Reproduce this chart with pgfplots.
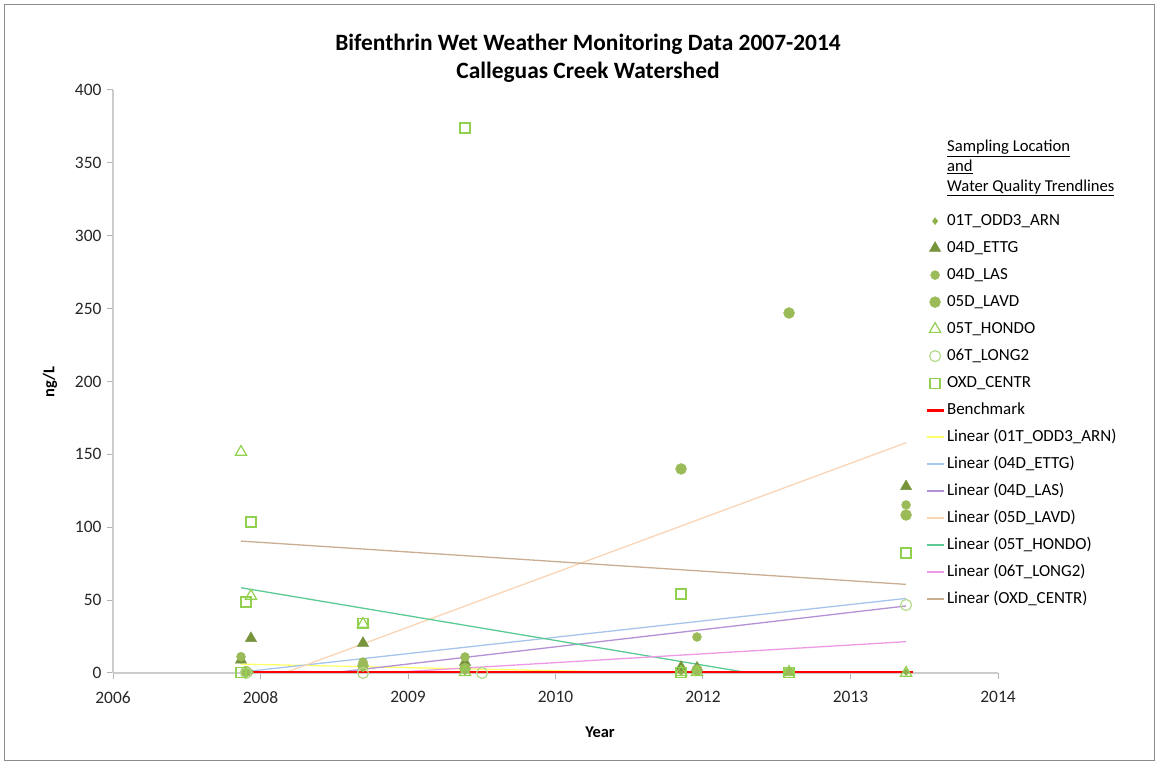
\documentclass[border=0pt]{standalone}
\usepackage{pgfplots}
\pgfplotsset{compat=1.18}
\usepackage{fontspec}
\setmainfont{Carlito}

\definecolor{markgreen}{HTML}{9BBB59}
\definecolor{darkgreen}{HTML}{77933C}
\definecolor{diagreen}{HTML}{8DB04A}
\definecolor{lime}{HTML}{92D050}
\definecolor{palelime}{HTML}{B5D98A}
\definecolor{tyellow}{HTML}{FFFF66}
\definecolor{tblue}{HTML}{A6C4EC}
\definecolor{tpurple}{HTML}{B391D4}
\definecolor{tpeach}{HTML}{FBD4B4}
\definecolor{tmint}{HTML}{5CCB93}
\definecolor{tpink}{HTML}{EE99E6}
\definecolor{ttan}{HTML}{C9AE93}

\begin{document}
\begin{tikzpicture}
\path[use as bounding box] (0bp,0bp) rectangle (1159bp,765bp);
\draw[black!45, line width=1bp] (4.5bp,4.5bp) rectangle (1154.5bp,760.5bp);

% titles
\node[align=center, font=\bfseries\fontsize{23.5}{28}\selectfont] at (588bp,707bp)
  {Bifenthrin Wet Weather Monitoring Data 2007-2014\\Calleguas Creek Watershed};
\node[rotate=90, font=\bfseries\fontsize{16.5}{19}\selectfont] at (50bp,383bp) {ng/L};
\node[font=\bfseries\fontsize{16.5}{19}\selectfont] at (600bp,33bp) {Year};
\node[anchor=north west, align=left, font=\fontsize{16.7}{20}\selectfont, inner sep=0pt] at (947bp,625bp)
  {\underline{Sampling Location}\\\underline{and}\\\underline{Water Quality Trendlines}};

\begin{axis}[
    at={(113bp,92bp)}, anchor=south west,
    scale only axis, width=885bp, height=583bp,
    xmin=2006.72, xmax=2014.72,
    ymin=0, ymax=400,
    xtick={2006.72,2008.053,2009.387,2010.72,2012.053,2013.387,2014.72},
    xticklabels={2006,2008,2009,2010,2012,2013,2014},
    ytick={0,50,...,400},
    axis lines*=left,
    axis line style={black!20, line width=1.5bp},
    tick style={black!30, line width=1bp},
    tick align=outside, major tick length=6bp,
    ticklabel style={font=\fontsize{17.5}{20}\selectfont, text=black!85},
    xticklabel style={yshift=-9bp},
    yticklabel style={xshift=-2bp},
    /pgf/number format/assume math mode=true,
    legend style={at={(0.914,0.796)}, anchor=north west, draw=none, fill=none,
        font=\fontsize{17}{20}\selectfont, row sep=7bp,
        nodes={inner sep=2bp, text height=12bp, text depth=4bp}},
    legend cell align=left,
]
% trendlines and benchmark (drawn first, under the markers)
\addplot[tyellow, line width=1.3bp, forget plot] coordinates {(2007.877,6.1)(2013.889,-3.5)};
\addplot[tblue, line width=1.3bp, forget plot] coordinates {(2007.877,0.6)(2013.889,51.2)};
\addplot[tpurple, line width=1.3bp, forget plot] coordinates {(2007.877,-7.2)(2013.889,46)};
\addplot[tpeach, line width=1.3bp, forget plot] coordinates {(2007.877,-11)(2013.889,158)};
\addplot[tmint, line width=1.3bp, forget plot] coordinates {(2007.877,58.5)(2013.889,-18)};
\addplot[tpink, line width=1.3bp, forget plot] coordinates {(2007.877,-5.8)(2013.889,21.5)};
\addplot[ttan, line width=1.3bp, forget plot] coordinates {(2007.877,90.5)(2013.889,60.8)};
\addplot[red, line width=3bp, forget plot] coordinates {(2007.90,0.6)(2013.95,0.6)};

% sampling locations
\addplot[only marks, mark=diamond*, mark size=3.5bp, color=diagreen] coordinates {
(2007.877,9)(2007.967,0.5)(2008.980,3)(2009.902,1)(2011.855,0.5)(2011.999,0.5)(2012.831,0.5)(2013.889,0.5)};
\addlegendentry{01T\_ODD3\_ARN}
\addplot[only marks, mark=triangle*, mark size=6.5bp, color=darkgreen] coordinates {
(2007.877,9)(2007.967,23.8)(2008.980,20.5)(2009.902,7.5)(2011.855,4)(2011.999,3.5)(2012.831,0.5)(2013.889,128)};
\addlegendentry{04D\_ETTG}
\addplot[only marks, mark=*, mark size=4.5bp, color=markgreen] coordinates {
(2007.877,11.2)(2007.922,0.5)(2008.980,7.5)(2009.902,11)(2011.999,24.7)(2012.831,1)(2013.889,115.3)};
\addlegendentry{04D\_LAS}
\addplot[only marks, mark=*, mark size=5.5bp, color=markgreen] coordinates {
(2007.922,1)(2008.980,5)(2009.902,3)(2011.855,140)(2011.999,2)(2012.831,247)(2013.889,108.4)};
\addlegendentry{05D\_LAVD}
\addplot[only marks, mark=triangle, mark size=6.5bp, color=lime, line width=1.2bp] coordinates {
(2007.877,151.6)(2007.967,52.8)(2008.980,33.6)(2009.902,0.5)(2011.855,0.5)(2011.999,0.5)(2012.831,0.5)(2013.889,0)};
\addlegendentry{05T\_HONDO}
\addplot[only marks, mark=o, mark size=5.5bp, color=palelime, line width=1.2bp] coordinates {
(2007.922,0)(2008.980,0)(2010.056,0)(2013.889,46.7)};
\addlegendentry{06T\_LONG2}
\addplot[only marks, mark=square, mark size=5bp, color=lime, line width=1.2bp] coordinates {
(2007.877,0.5)(2007.922,48.7)(2007.967,103.6)(2008.980,34)(2009.902,373.9)(2011.855,54.2)(2011.855,0.5)(2012.831,0.5)(2013.889,82.3)};
\addlegendentry{OXD\_CENTR}

\addlegendimage{line legend, red, line width=3bp}
\addlegendentry{Benchmark}
\addlegendimage{line legend, tyellow, line width=1.6bp}
\addlegendentry{Linear (01T\_ODD3\_ARN)}
\addlegendimage{line legend, tblue, line width=1.6bp}
\addlegendentry{Linear (04D\_ETTG)}
\addlegendimage{line legend, tpurple, line width=1.6bp}
\addlegendentry{Linear (04D\_LAS)}
\addlegendimage{line legend, tpeach, line width=1.6bp}
\addlegendentry{Linear (05D\_LAVD)}
\addlegendimage{line legend, tmint, line width=1.6bp}
\addlegendentry{Linear (05T\_HONDO)}
\addlegendimage{line legend, tpink, line width=1.6bp}
\addlegendentry{Linear (06T\_LONG2)}
\addlegendimage{line legend, ttan, line width=1.6bp}
\addlegendentry{Linear (OXD\_CENTR)}
\end{axis}
\end{tikzpicture}
\end{document}
